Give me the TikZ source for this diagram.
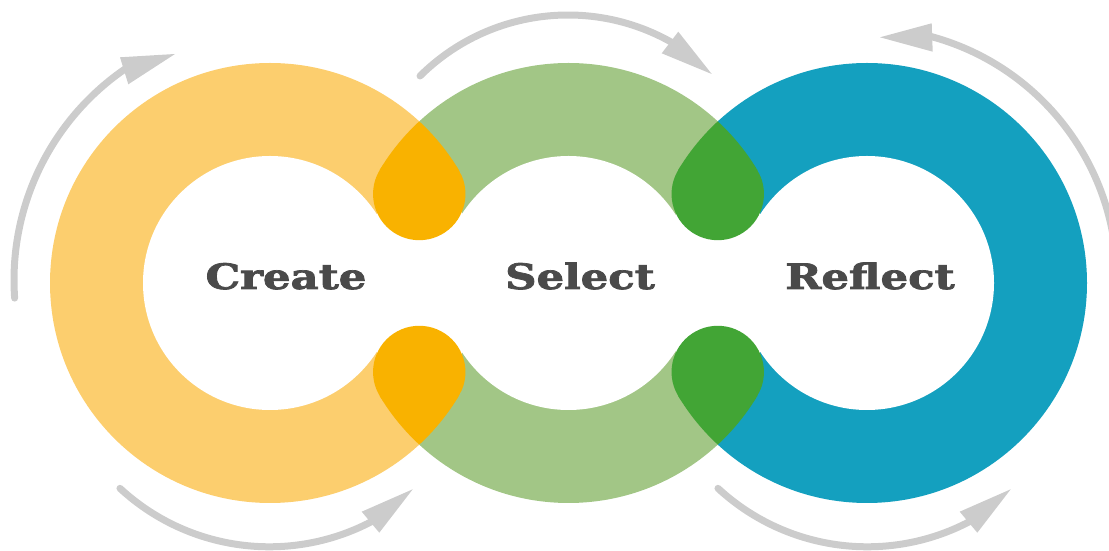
\documentclass[tikz,border=0pt]{standalone}
\usepackage{fontspec}
\newfontfamily\labelfont{DejaVu Serif Bold}[FakeBold=2]
\definecolor{ylight}{HTML}{FCCE6E}
\definecolor{ydark}{HTML}{F9B200}
\definecolor{glight}{HTML}{A2C686}
\definecolor{gdark}{HTML}{42A535}
\definecolor{bring}{HTML}{14A0BF}
\definecolor{agrey}{HTML}{CCCCCC}
\definecolor{tgrey}{HTML}{4A4A4A}
\tikzset{
  arr/.style={draw=agrey, line width=7pt, line cap=round},
  head/.style={fill=agrey},
  lbl/.style={text=tgrey, font=\labelfont\fontsize{35}{40}\selectfont, inner sep=0pt, anchor=base, xscale=1.24}
}
\begin{document}
\begin{tikzpicture}[x=1pt,y=1pt]
\useasboundingbox (0,0) rectangle (1109,551);
\clip (0,0) rectangle (1109,551);
\coordinate (ca) at (270,268);
\coordinate (cb) at (568.5,268);
\coordinate (cc) at (867,268);
% rings
\begin{scope}
  \clip (0,0) rectangle (419.25,551);
  \fill[ylight] (ca) circle[radius=220];
\end{scope}
\begin{scope}
  \clip (419.25,0) rectangle (717.75,551);
  \fill[glight] (cb) circle[radius=220];
\end{scope}
\begin{scope}
  \clip (717.75,0) rectangle (1109,551);
  \fill[bring] (cc) circle[radius=220];
\end{scope}
% white holes and necks
\fill[white] (ca) circle[radius=127];
\fill[white] (cb) circle[radius=127];
\fill[white] (cc) circle[radius=127];
\fill[white] (377,191) rectangle (461.5,345);
\fill[white] (675.5,191) rectangle (760,345);
% drops
\begin{scope}
  \clip (ca) circle[radius=220];
  \clip (cb) circle[radius=220];
  \fill[ydark] (300,380.7) rectangle (540,551);
  \fill[ydark] (419.25,357) circle[radius=46.2];
  \fill[ydark] (300,0) rectangle (540,155.3);
  \fill[ydark] (419.25,179) circle[radius=46.2];
\end{scope}
\begin{scope}
  \clip (cb) circle[radius=220];
  \clip (cc) circle[radius=220];
  \fill[gdark] (600,380.7) rectangle (840,551);
  \fill[gdark] (717.75,357) circle[radius=46.2];
  \fill[gdark] (600,0) rectangle (840,155.3);
  \fill[gdark] (717.75,179) circle[radius=46.2];
\end{scope}
% labels
\node[lbl] (create) at (286,262) {Create};
\node[lbl] (select) at (580,262) {Select};
\node[lbl] (reflect) at (870,262) {Reflect};
% arrows
\coordinate (a1) at (270,271);
\draw[arr] (a1) ++(184.05:256) arc[start angle=184.05, end angle=123, radius=256];
\fill[head] (175,497) -- (120,493.7) -- (128.3,466.7) -- cycle;
\coordinate (a2) at (568,326);
\draw[arr] (a2) ++(134.8:210) arc[start angle=134.8, end angle=58, radius=210];
\fill[head] (711.7,477) -- (678.3,519.3) -- (661.7,497.7) -- cycle;
\coordinate (a3) at (865.4,271.7);
\draw[arr] (a3) ++(0:251.5) arc[start angle=0, end angle=77, radius=251.5];
\fill[head] (880,513.7) -- (931.7,527.7) -- (932.7,499.3) -- cycle;
\coordinate (a4) at (269.3,224.2);
\draw[arr] (a4) ++(-132.75:220) arc[start angle=-132.75, end angle=-60, radius=220];
\fill[head] (412.7,61.7) -- (361.7,39.3) -- (379.3,18.3) -- cycle;
\coordinate (a5) at (867.3,224.2);
\draw[arr] (a5) ++(-132.75:220) arc[start angle=-132.75, end angle=-60, radius=220];
\fill[head] (1010.7,61.7) -- (959.7,39.3) -- (977.3,18.3) -- cycle;
\end{tikzpicture}
\end{document}
